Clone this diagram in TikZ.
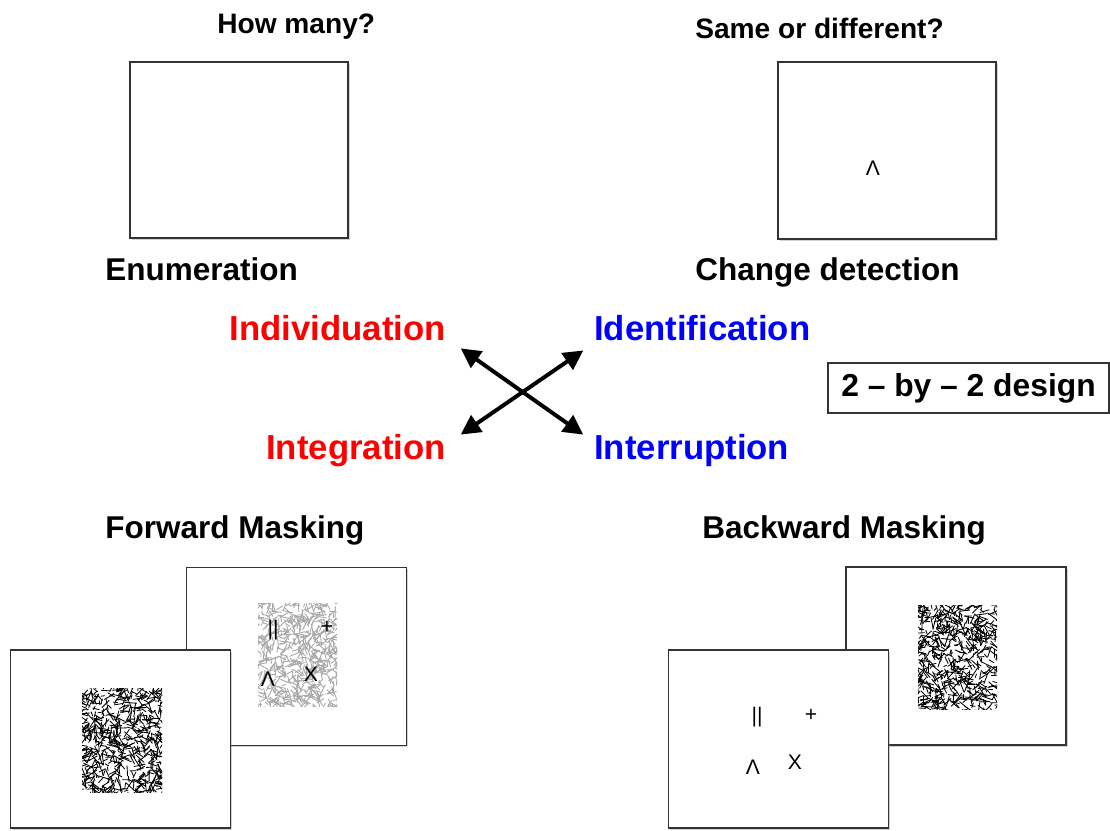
\documentclass[tikz,border=0pt]{standalone}
\usepackage{fontspec}
\setmainfont{Liberation Sans}
\usetikzlibrary{arrows.meta,shadows}

% a patch of random strokes (the masks)
\newcommand{\noisepatch}[5]{%
  \begin{scope}
    \clip (#1,#2) rectangle ++(#3,#4);
    \foreach \k in {1,...,700} {
      \pgfmathsetmacro{\px}{#1-4+rnd*(#3+8)}
      \pgfmathsetmacro{\py}{#2-4+rnd*(#4+8)}
      \pgfmathsetmacro{\pa}{rnd*360}
      \pgfmathsetmacro{\pl}{3+rnd*9}
      \draw[#5, line width=0.6pt, line cap=round] (\px,\py) -- ++(\pa:\pl);
    }
  \end{scope}}

\tikzset{
  frame/.style={draw=black!80, fill=white, line width=1pt, inner sep=0pt,
    drop shadow={shadow xshift=1.2pt, shadow yshift=-1.2pt, opacity=0.35}},
  bigframe/.style={frame, minimum width=5.5cm, minimum height=4.45cm},
  title/.style={font=\bfseries\fontsize{20}{24}\selectfont, inner sep=0pt, anchor=base west},
  task/.style={font=\bfseries\fontsize{22.4}{26}\selectfont, inner sep=0pt, anchor=base west},
  proc/.style={font=\bfseries\fontsize{24.7}{28}\selectfont, inner sep=0pt},
  glyph/.style={font=\fontsize{15}{17}\selectfont, inner sep=0pt},
  dbl/.style={{Triangle[length=14pt,width=14pt]}-{Triangle[length=14pt,width=14pt]},
    line width=2.8pt, shorten <=-2pt, shorten >=-2pt}
}

\begin{document}
\begin{tikzpicture}[x=0.025cm, y=-0.025cm]
  \useasboundingbox (0,0) rectangle (1110,830);
  \pgfmathsetseed{4217}

  % Enumeration
  \node[title] (howmany) at (217,33) {How many?};
  \node[frame, minimum width=5.45cm, minimum height=4.4cm] (enumbox) at (239,150) {};
  \node[task] (enum) at (105,280) {Enumeration};

  % Change detection
  \node[title] (samediff) at (695,38) {Same or different?};
  \node[frame, minimum width=5.45cm, minimum height=4.42cm] (cdbox) at (887,150.5) {};
  \node[glyph] (cdwedge) at (873,168) {Λ};
  \node[task] (cd) at (695,280) {Change detection};

  % the four processes
  \node[proc, red, anchor=base east] (indiv) at (446,340) {Individuation};
  \node[proc, red, anchor=base east] (integ) at (446,459) {Integration};
  \node[proc, blue, anchor=base west] (ident) at (594,340) {Identification};
  \node[proc, blue, anchor=base west] (inter) at (594,459) {Interruption};

  % crossed arrows
  \coordinate (ul) at (463,350);
  \coordinate (ur) at (581,352);
  \coordinate (ll) at (463,433);
  \coordinate (lr) at (581,433);
  \draw[dbl] (ul) -- (lr);
  \draw[dbl] (ur) -- (ll);

  % design box
  \node[draw=black!80, line width=1pt, minimum width=7.02cm, minimum height=1.25cm,
    font=\bfseries\fontsize{22.6}{26}\selectfont] (design) at (968.5,388) {2 – by – 2 design};

  % Forward masking
  \node[task] (fwd) at (105,538) {Forward Masking};
  \node[bigframe] (fwdback) at (296.5,656.5) {};
  \noisepatch{258}{603}{79}{103}{black!35}
  \node[glyph] (fwdbar) at (273,630) {||};
  \node[glyph] (fwdplus) at (327,627) {+};
  \node[glyph] (fwdwedge) at (268,679) {Λ};
  \node[glyph] (fwdx) at (311,674) {X};
  \node[bigframe] (fwdfront) at (120.5,739) {};
  \noisepatch{82}{688}{80}{104}{black}

  % Backward masking
  \node[task] (bwd) at (702,538) {Backward Masking};
  \node[bigframe] (bwdback) at (956,656) {};
  \noisepatch{918}{605}{79}{104}{black}
  \node[bigframe] (bwdfront) at (778.5,739) {};
  \node[glyph] (bwdbar) at (757,717) {||};
  \node[glyph] (bwdplus) at (811,715) {+};
  \node[glyph] (bwdwedge) at (753,767) {Λ};
  \node[glyph] (bwdx) at (795,762) {X};
\end{tikzpicture}
\end{document}
